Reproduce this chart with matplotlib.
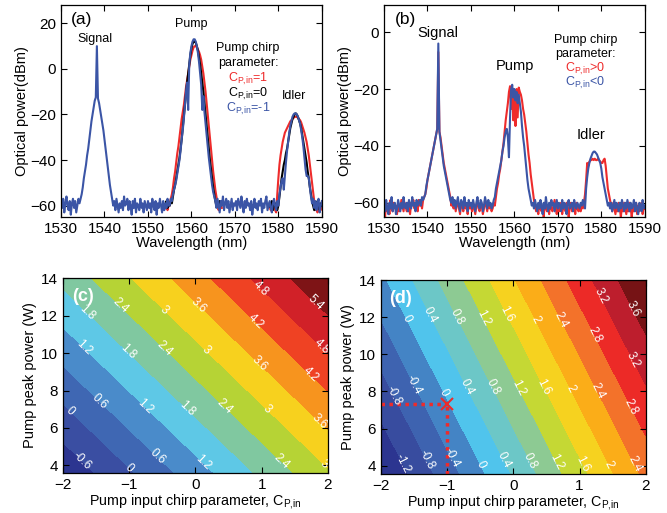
import numpy as np
import matplotlib
matplotlib.use("Agg")
import matplotlib.pyplot as plt
from matplotlib.colors import ListedColormap, BoundaryNorm

plt.rcParams['font.family'] = ['Liberation Sans', 'DejaVu Sans']
plt.rcParams['mathtext.default'] = 'regular'

# ---------------- spectra, 0.25 nm sampling starting at 1530 nm ----------------
WL0 = 1530.0
STEP = 0.25

# (a) C_P,in = -1 (blue), full span 1530-1590
a_blue = [
    -58, -61, -57, -63, -59, -56, -60, -62, -58, -64, -59, -57, -61, -58, -63, -60, -57, -59, -57, -55,
    -52, -48, -45, -42, -38, -35, -31, -27, -23, -20, -17, -14, -12.5, 10, -13, -15, -18, -21, -24, -27,
    -31, -35, -39, -43, -47, -51, -54, -57, -60, -58, -62, -57, -60, -63, -59, -61, -58, -62, -56, -60,
    -59, -57, -62, -58, -60, -64, -58, -61, -57, -63, -59, -60, -62, -57, -61, -59, -63, -58, -60, -62,
    -58, -61, -59, -63, -57, -60, -62, -58, -64, -59, -61, -57, -60, -63, -58, -62, -59, -61, -57, -60,
    -60, -57, -58, -55, -53, -51, -49, -46, -43, -40, -36, -31, -27, -22, -16, -10, -6, -18, 2, 7,
    10, 12, 13, 13, 12, 10, 7, 3, -2, -7, -18, -12, -19, -24, -29, -34, -39, -43, -47, -51,
    -54, -56, -58, -61, -57, -60, -63, -58, -60, -56, -62, -59, -57, -61, -58, -63, -60, -57, -62, -59,
    -60, -58, -62, -57, -59, -61, -56, -60, -63, -58, -61, -57, -60, -59, -62, -58, -64, -60, -57, -61,
    -59, -62, -58, -60, -57, -63, -59, -61, -58, -56, -62, -60, -58, -61, -63, -59, -57, -60, -62, -58,
    -60, -55, -52, -49, -48, -53, -47, -41, -36, -32, -28, -25, -23, -21, -20, -19.5, -19.5, -20, -21, -22.5,
    -24, -27, -30, -34, -39, -44, -47, -47, -48, -52, -56, -59, -57, -61, -58, -62, -59, -57, -63, -60,
    -58,
]

# (a) pump region 1554-1567 nm
a_pump_start = 1554.0
a_pump_black = [
    -60, -58, -61, -59, -60, -58, -59, -56,
    -53, -51, -48, -45, -42, -39, -35, -31,
    -26, -21, -16, -11, -6, -2, 2, 6,
    9, 11, 12, 12, 11.5, 10, 8, 5,
    2, -2, -6, -10, -15, -20, -25, -30,
    -35, -40, -44, -48, -52, -55, -58, -60,
    -59, -61, -58, -60, -59,
]
a_pump_red = [
    -61, -59, -62, -60, -60, -57, -55, -52,
    -48, -45, -41, -37, -34, -30, -26, -22,
    -19, -16, -12, -8, -5, -2, 1, 4,
    6, 8, 9.5, 10, 10, 9.5, 8.5, 7.5,
    6, 4, 1, -2, -6, -10, -15, -20,
    -25, -30, -35, -40, -45, -49, -53, -56,
    -59, -62, -60, -59, -61,
]

# (a) idler region 1578-1590 nm
a_idler_start = 1578.0
a_idler_black = [
    -59, -61, -58, -62, -60, -59, -61, -62,
    -60, -56, -52, -48, -45, -42, -40, -37,
    -35, -32, -29, -26, -24, -22, -21, -20,
    -19.5, -20, -21, -22.5, -24, -26, -29, -32,
    -35, -38, -41, -45, -48, -52, -55, -58,
    -60, -62, -59, -61, -58, -60, -62, -59,
    -60,
]
a_idler_red = [
    -60, -62, -59, -61, -60, -62, -63, -55,
    -48, -42, -38, -35, -32, -30, -28, -27,
    -26, -25, -24, -23, -22.5, -22, -21.5, -21,
    -21, -21, -21.5, -22, -22.5, -23.5, -25, -26.5,
    -28, -30, -32, -35, -38, -42, -46, -50,
    -54, -58, -62, -60, -63, -59, -61, -62,
    -60,
]

# (b) full span, C_P,in < 0 (blue) and C_P,in > 0 (red)
b_blue = [
    -61, -63, -59, -62, -64, -60, -62, -58, -63, -61, -60, -64, -62, -59, -61, -63, -60, -62, -58, -61,
    -62, -60, -63, -59, -61, -62, -58, -61, -60, -63, -59, -61, -60, -59, -61, -58, -59, -58, -57, -54,
    -52, -50, -48, -46, -44, -42, -40, -38, -36, -34, -4, -35, -38, -41, -44, -47, -49, -51, -53, -55,
    -57, -59, -60, -58, -61, -59, -62, -60, -58, -61, -63, -59, -60, -62, -58, -61, -60, -63, -59, -61,
    -60, -62, -59, -61, -63, -60, -58, -61, -62, -59, -60, -63, -61, -58, -60, -62, -59, -61, -60, -62,
    -61, -59, -58, -55, -53, -51, -49, -47, -45, -42, -40, -37, -35, -34, -37, -44, -30, -20, -18.5, -23,
    -20, -24, -21, -25, -22, -25, -28, -33, -37, -40, -44, -48, -52, -55, -57, -59, -61, -60, -62, -59,
    -61, -63, -60, -62, -59, -61, -64, -60, -62, -58, -61, -63, -60, -62, -59, -61, -60, -63, -61, -59,
    -62, -60, -61, -63, -59, -62, -60, -61, -64, -60, -59, -62, -61, -60, -63, -59, -61, -62, -60, -61,
    -62, -60, -61, -59, -60, -62, -55, -51, -48, -46, -44.5, -43.5, -42.5, -42, -42, -42.5, -43, -44, -45, -46,
    -48, -51, -53, -55, -57, -59, -61, -60, -62, -60, -63, -61, -59, -62, -60, -61, -63, -60, -62, -59,
    -61, -63, -60, -62, -59, -61, -63, -60, -62, -61, -59, -63, -60, -62, -64, -60, -61, -63, -59, -62,
    -61,
]
b_red = [
    -62, -65, -60, -63, -61, -64, -59, -62, -63, -60, -62, -61, -64, -60, -63, -62, -59, -61, -63, -60,
    -61, -63, -60, -62, -64, -60, -61, -59, -62, -60, -61, -63, -59, -61, -60, -62, -59, -58, -57, -55,
    -52, -50, -48, -46, -44, -42, -40, -38, -36, -34, -7, -35, -37, -40, -43, -46, -48, -50, -52, -54,
    -56, -58, -61, -59, -62, -60, -63, -61, -59, -62, -64, -60, -61, -63, -59, -62, -61, -64, -60, -62,
    -61, -63, -60, -62, -64, -61, -59, -62, -63, -60, -61, -64, -62, -59, -61, -63, -60, -62, -61, -63,
    -62, -60, -61, -58, -55, -53, -50, -48, -45, -42, -39, -35, -31, -28, -25, -21, -19, -27, -21, -31,
    -22, -33, -20, -30, -19.5, -21, -22, -24, -27, -29, -32, -35, -39, -43, -46, -50, -53, -56, -59, -61,
    -63, -61, -64, -60, -62, -63, -61, -65, -60, -62, -63, -61, -64, -60, -62, -63, -61, -59, -62, -64,
    -61, -63, -62, -60, -64, -61, -62, -63, -60, -62, -65, -61, -60, -63, -62, -61, -64, -60, -62, -63,
    -61, -63, -60, -62, -60, -57, -52, -46, -47, -45.5, -45, -45, -44.5, -45, -44.5, -45, -45, -44.5, -45, -45.5,
    -46, -46, -45, -44.5, -47, -51, -55, -57, -59, -61, -63, -60, -62, -64, -61, -63, -60, -62, -65, -61,
    -63, -60, -62, -64, -61, -63, -60, -62, -65, -61, -63, -62, -60, -64, -61, -63, -62, -60, -64, -62,
    -62,
]

# ---------------- contour maps: values read at grid nodes ----------------
chirp_nodes = [-2.0, 0.0, 2.0]
c_power_nodes = [3.6, 8.8, 14.0]
c_values = [
    [-1.08, 0.92, 2.92],
    [0.45, 2.45, 4.45],
    [1.97, 3.97, 5.97],
]
c_levels = [-1.8, -0.6, 0, 0.6, 1.2, 1.8, 2.4, 3.0, 3.6, 4.2, 4.8, 5.4, 6.6]
c_colors = ['#2C3590', '#3A4EA2', '#3F67B3', '#4A8BCA', '#5EC8E6', '#80C8A0',
            '#B6D335', '#F7D11E', '#F7941E', '#EF4223', '#D12128', '#7E1416']

d_power_nodes = [3.5, 8.75, 14.0]
d_values = [
    [-1.63, 0.43, 2.49],
    [-0.86, 1.20, 3.26],
    [-0.09, 1.97, 4.03],
]
d_levels = [-2.0, -1.2, -0.8, -0.4, 0, 0.4, 0.8, 1.2, 1.6, 2.0, 2.4, 2.8, 3.2, 3.6, 4.4]
d_colors = ['#2C3590', '#384C9F', '#3E63B0', '#4484C5', '#50C4EC', '#6CC7C7', '#8DCA93',
            '#C5D834', '#F6D21F', '#FBAD18', '#F3722A', '#EC2A27', '#BD1E2D', '#761315']

# operating point marked in (d)
op_chirp = -1.0
op_power = 7.3

# label spots (layout only)
c_label_spots = [(-1.60, 12.3), (-1.09, 12.7), (-0.44, 12.4), (0.04, 12.5), (0.97, 13.4), (1.80, 12.6),
                 (0.89, 11.6), (-1.70, 10.2), (-1.04, 10.0), (-0.47, 10.2), (0.14, 10.1), (1.87, 10.2),
                 (0.94, 9.3), (1.67, 8.6), (-1.90, 6.9), (-1.45, 7.4), (-0.79, 7.0), (-0.16, 6.95),
                 (0.39, 7.0), (1.07, 7.0), (1.87, 6.3), (-1.75, 4.1), (-1.02, 3.8), (-0.59, 4.4),
                 (0.06, 3.95), (1.27, 4.1), (1.90, 3.9)]
d_label_spots = [(-1.62, 11.9), (-1.27, 12.1), (-0.92, 11.9), (-0.54, 11.8), (-0.19, 12.0), (0.34, 11.9),
                 (0.74, 11.9), (1.40, 13.3), (1.27, 11.1), (1.87, 12.6), (1.87, 9.8), (-1.52, 8.35),
                 (-1.80, 7.8), (-1.07, 7.9), (-0.74, 8.2), (-0.34, 8.2), (0.04, 8.1), (0.44, 8.2),
                 (0.84, 8.1), (1.32, 8.1), (1.85, 7.3), (-1.62, 4.2), (-1.25, 4.45), (-0.92, 4.45),
                 (-0.49, 4.1), (-0.14, 4.3), (0.24, 4.2), (0.64, 4.2), (1.04, 4.1), (1.47, 4.1),
                 (1.85, 4.1)]

BLUE = '#3B55A6'
RED = '#EE2B2B'
SUB = '$_{P{,}in}$'


def wl_axis(start, n):
    return start + STEP * np.arange(n)


def style_axes(ax):
    ax.tick_params(direction='in', top=True, right=True, length=4, width=0.8, labelsize=11)
    for s in ax.spines.values():
        s.set_linewidth(0.9)


fig = plt.figure(figsize=(6.67, 5.13), dpi=100)

# ---------------- (a) ----------------
ax = fig.add_axes([0.0915, 0.577, 0.391, 0.413])
ax.plot(wl_axis(a_pump_start, len(a_pump_red)), a_pump_red, color=RED, lw=1.5)
ax.plot(wl_axis(a_idler_start, len(a_idler_red)), a_idler_red, color=RED, lw=1.5)
ax.plot(wl_axis(a_pump_start, len(a_pump_black)), a_pump_black, color='black', lw=1.5)
ax.plot(wl_axis(a_idler_start, len(a_idler_black)), a_idler_black, color='black', lw=1.5)
ax.plot(wl_axis(WL0, len(a_blue)), a_blue, color=BLUE, lw=1.5)
ax.set_xlim(1530, 1590)
ax.set_ylim(-65, 28)
ax.set_xticks(np.arange(1530, 1591, 10))
ax.set_yticks([-60, -40, -20, 0, 20])
ax.set_xlabel('Wavelength (nm)', fontsize=10.5, labelpad=0)
ax.set_ylabel('Optical power(dBm)', fontsize=10.5, labelpad=1)
style_axes(ax)
ax.text(1532.3, 21.5, '(a)', fontsize=12.5, va='center')
ax.text(1537.8, 13.3, 'Signal', fontsize=9, ha='center', va='center')
ax.text(1560.0, 19.5, 'Pump', fontsize=9, ha='center', va='center')
ax.text(1583.7, -12.0, 'Idler', fontsize=9, ha='center', va='center')
ax.text(1573.0, 9.3, 'Pump chirp', fontsize=9, ha='center', va='center')
ax.text(1573.0, 2.6, 'parameter:', fontsize=9, ha='center', va='center')
ax.text(1573.0, -4.3, 'C' + SUB + '=1', fontsize=9, ha='center', va='center', color=RED)
ax.text(1573.0, -11.0, 'C' + SUB + '=0', fontsize=9, ha='center', va='center', color='black')
ax.text(1573.0, -17.5, 'C' + SUB + '=-1', fontsize=9, ha='center', va='center', color=BLUE)

# ---------------- (b) ----------------
ax = fig.add_axes([0.5757, 0.577, 0.391, 0.413])
ax.plot(wl_axis(WL0, len(b_red)), b_red, color=RED, lw=1.5)
ax.plot(wl_axis(WL0, len(b_blue)), b_blue, color=BLUE, lw=1.5)
ax.set_xlim(1530, 1590)
ax.set_ylim(-65, 9.5)
ax.set_xticks(np.arange(1530, 1591, 10))
ax.set_yticks([-60, -40, -20, 0])
ax.set_xlabel('Wavelength (nm)', fontsize=10.5, labelpad=0)
ax.set_ylabel('Optical power(dBm)', fontsize=10.5, labelpad=1)
style_axes(ax)
ax.text(1532.6, 4.3, '(b)', fontsize=12.5, va='center')
ax.text(1542.3, -0.4, 'Signal', fontsize=10.5, ha='center', va='center')
ax.text(1560.2, -12.0, 'Pump', fontsize=10.5, ha='center', va='center')
ax.text(1577.7, -36.0, 'Idler', fontsize=10.5, ha='center', va='center')
ax.text(1576.3, -2.7, 'Pump chirp', fontsize=9, ha='center', va='center')
ax.text(1576.3, -7.6, 'parameter:', fontsize=9, ha='center', va='center')
ax.text(1576.3, -12.8, 'C' + SUB + '>0', fontsize=9, ha='center', va='center', color=RED)
ax.text(1576.3, -18.0, 'C' + SUB + '<0', fontsize=9, ha='center', va='center', color=BLUE)


def contour_panel(rect, p_nodes, values, levels, colors, spots, ylow, tag):
    ax = fig.add_axes(rect)
    cg, pg = np.meshgrid(chirp_nodes, p_nodes)
    z = np.array(values)
    cmap = ListedColormap(colors)
    norm = BoundaryNorm(levels, cmap.N)
    ax.contourf(cg, pg, z, levels=levels, cmap=cmap, norm=norm, antialiased=False)
    cs = ax.contour(cg, pg, z, levels=levels[1:-1], colors='none')
    ax.clabel(cs, manual=spots, fmt='%g', colors='white', fontsize=8.5, inline=True)
    ax.set_xlim(-2, 2)
    ax.set_ylim(ylow, 14)
    ax.set_xticks([-2, -1, 0, 1, 2])
    ax.set_yticks([4, 6, 8, 10, 12, 14])
    ax.set_xlabel('Pump input chirp parameter, C' + SUB, fontsize=10.3, labelpad=0)
    ax.set_ylabel('Pump peak power (W)', fontsize=10.5, labelpad=3)
    style_axes(ax)
    ax.text(-1.87, 13.0, tag, fontsize=13, fontweight='bold', color='white', va='center')
    return ax


contour_panel([0.0945, 0.078, 0.397, 0.38], c_power_nodes, c_values, c_levels, c_colors,
              c_label_spots, 3.6, '(c)')
ax = contour_panel([0.5712, 0.076, 0.397, 0.378], d_power_nodes, d_values, d_levels, d_colors,
                   d_label_spots, 3.55, '(d)')
ax.plot([-2, op_chirp], [op_power, op_power], color=RED, lw=2.5, ls=(0, (1, 1.3)))
ax.plot([op_chirp, op_chirp], [3.55, op_power], color=RED, lw=2.5, ls=(0, (1, 1.3)))
ax.plot([op_chirp], [op_power], marker='x', color=RED, ms=9, mew=1.5)

fig.savefig('out.png', dpi=100)
